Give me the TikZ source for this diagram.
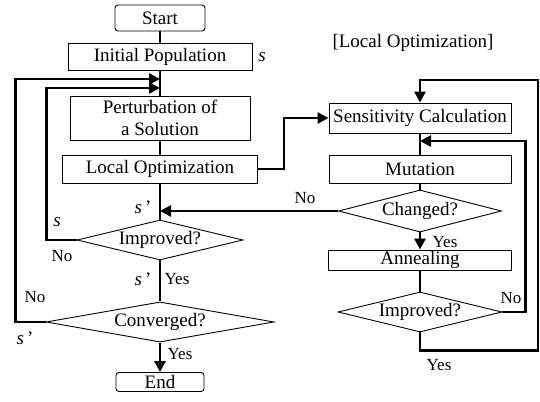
\documentclass[tikz,border=0pt]{standalone}
\usepackage{fontspec}
\setmainfont{Liberation Serif}
\usetikzlibrary{shapes.geometric,arrows.meta,calc}
\begin{document}
\begin{tikzpicture}[x=1pt,y=-1pt,
 box/.style={draw,line width=0.9pt,inner sep=0pt,font=\fontsize{19}{22}\selectfont,align=center},
 term/.style={box,rounded corners=3pt},
 dec/.style={draw,diamond,line width=0.9pt,inner sep=0pt,aspect=4,font=\fontsize{19}{22}\selectfont},
 conn/.style={line width=2.6pt},
 arr/.style={conn,-{Triangle[length=11pt,width=11pt]}},
 lab/.style={font=\fontsize{17}{19}\selectfont,inner sep=0pt},
 var/.style={font=\fontsize{19}{21}\selectfont,inner sep=0pt}]
\useasboundingbox (0,0) rectangle (540,401);
% left column
\node[term,minimum width=90,minimum height=26] (start) at (160,18) {Start};
\node[box,minimum width=184,minimum height=27] (init) at (160,57) {Initial Population};
\node[box,minimum width=180,minimum height=44] (pert) at (160,118) {Perturbation of\\a Solution};
\node[box,minimum width=195,minimum height=28] (lopt) at (160,169) {Local Optimization};
\node[dec,minimum width=166,minimum height=40] (imp1) at (160,240) {Improved?};
\node[dec,minimum width=228,minimum height=40] (conv) at (160,322) {Converged?};
\node[term,minimum width=88,minimum height=19] (end) at (160,382) {End};
\coordinate (in1) at (160,79);
\coordinate (in2) at (160,88);
% right column
\node[font=\fontsize{19}{22}\selectfont,inner sep=0pt] (title) at (413,43) {[Local Optimization]};
\node[box,minimum width=182,minimum height=30] (sens) at (420,118) {Sensitivity Calculation};
\node[box,minimum width=182,minimum height=28] (mut) at (420,169) {Mutation};
\node[dec,minimum width=163,minimum height=42] (chg) at (420,211) {Changed?};
\node[box,minimum width=183,minimum height=20] (ann) at (420,260) {Annealing};
\node[dec,minimum width=164,minimum height=40] (imp2) at (420,312) {Improved?};
\coordinate (in4) at (420,141);
\coordinate (tr) at (538,80);
% connectors
\draw[conn] (start) -- (init);
\draw[conn] (init) -- (pert);
\draw[conn] (pert) -- (lopt);
\draw[conn] (lopt) -- (imp1);
\draw[conn] (imp1) -- (conv);
\draw[arr] (conv) -- (end);
\draw[arr] (conv.west) -- ++(-30,0) |- (in1);
\draw[arr] (imp1.west) -- ++(-30,0) |- (in2);
\draw[arr] (lopt.east) -- ++(26,0) |- (sens.west);
\draw[arr] (chg.west) -- (chg.west -| lopt.south);
\draw[conn] (sens) -- (mut);
\draw[conn] (mut) -- (chg);
\draw[arr] (chg) -- (ann);
\draw[conn] (ann) -- (imp2);
\draw[arr] (imp2.east) -- ++(23,0) |- (in4);
\draw[arr] (imp2.south) -- ++(0,18) -| (tr) -| (sens.north);
% labels
\node[var] (s1) at (262,57) {\textit{s}};
\node[var] (s2) at (143,207) {\textit{s}\,’};
\node[var] (s3) at (57,222) {\textit{s}};
\node[lab] (n1) at (62,256) {No};
\node[var] (s4) at (143,279) {\textit{s}\,’};
\node[lab] (y1) at (177,279) {Yes};
\node[lab] (n2) at (35,297) {No};
\node[var] (s5) at (25,338) {\textit{s}\,’};
\node[lab] (y2) at (180,354) {Yes};
\node[lab] (n3) at (305,198) {No};
\node[lab] (y3) at (445,242) {Yes};
\node[lab] (n4) at (511,298) {No};
\node[lab] (y4) at (439,365) {Yes};
\end{tikzpicture}
\end{document}
